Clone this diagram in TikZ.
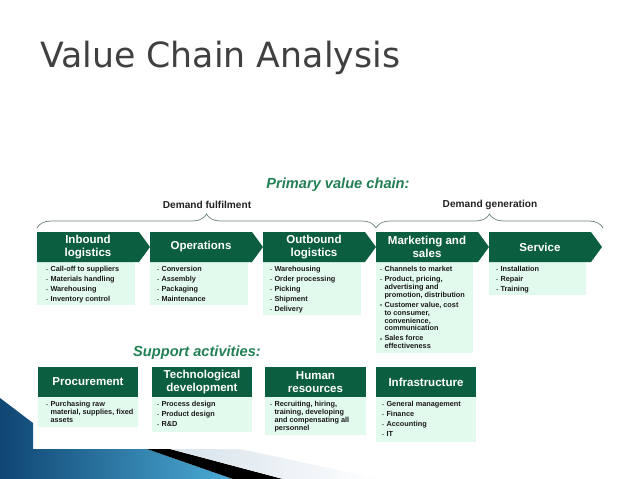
\documentclass[tikz,border=0pt]{standalone}
\usepackage{fontspec}
\setmainfont{Liberation Sans}
\newfontfamily\titlefont{DejaVu Sans}
\usetikzlibrary{calc, decorations.pathreplacing, positioning}

\newcommand{\vcbul}{\makebox[3pt][l]{\textcolor{bulcol}{\rule[0.9pt]{1.2pt}{1.2pt}}}}
\newcommand{\vcind}{\hspace*{3pt}}
\newcommand{\vcnext}{\\[1.5pt]}

\tikzset{
  titletext/.style={text=titlecol, font=\titlefont\fontsize{24.7}{28}\selectfont, inner sep=0pt},
  heading/.style={text=headingcol, font=\fontsize{10.4}{12}\selectfont\bfseries\itshape, inner sep=0pt},
  demand/.style={text=demandcol, font=\fontsize{7.2}{8}\selectfont\bfseries, inner sep=0pt},
  headtext/.style={text=white, font=\fontsize{8.2}{9.3}\selectfont\bfseries, align=center, inner sep=0pt},
  bodytext/.style={anchor=north west, inner sep=0pt, align=left, text=bodytxtcol,
    font=\fontsize{5.2}{5.6}\selectfont\bfseries},
  headfill/.style={fill=headcol},
  bodyfill/.style={fill=bodycol},
  bracket/.style={draw=bracecol, line width=0.5pt, decorate,
    decoration={brace, amplitude=0.35cm}}
}

\begin{document}
\begin{tikzpicture}[x=0.025cm, y=-0.025cm]
  % Slide frame (pixel units)
  \path[use as bounding box] (0,0) rectangle (638,479);
  \fill[white] (0,0) rectangle (638,479);

  % Colours of the slide.
  \definecolor{titlecol}{RGB}{64,64,64}
  \definecolor{headingcol}{RGB}{34,128,84}
  \definecolor{demandcol}{RGB}{34,34,34}
  \definecolor{headcol}{RGB}{12,94,64}
  \definecolor{bodycol}{RGB}{226,249,238}
  \definecolor{bodytxtcol}{RGB}{26,26,26}
  \definecolor{bulcol}{RGB}{120,150,130}
  \definecolor{bracecol}{RGB}{110,130,120}
  \definecolor{bluedark}{RGB}{16,70,115}
  \definecolor{bluelight}{RGB}{75,172,214}
  \definecolor{greylight}{RGB}{214,226,234}

  % Bottom-left ornament.
  \shade[left color=bluedark, right color=bluelight]
    (0,398) -- (33,423) -- (33,449) -- (147,449) -- (233,479) -- (0,479) -- cycle;
  \fill[black] (147,449) -- (170,449) -- (283,479) -- (233,479) -- cycle;
  \shade[left color=greylight, right color=white]
    (170,449) -- (240,449) -- (380,479) -- (283,479) -- cycle;

  % Title.
  \node[titletext, anchor=base west] (title) at (40,68) {Value Chain Analysis};

  % Primary value chain.
  \node[heading] (primary) at (338,185) {Primary value chain:};
  \node[demand] (fulfil) at (207,205) {Demand fulfilment};
  \node[demand] (generate) at (490,205) {Demand generation};

  \coordinate (braceL) at (37,228);
  \coordinate (braceM) at (376,228);
  \coordinate (braceR) at (603,228);
  \draw[bracket] (braceL) -- (braceM);
  \draw[bracket] (braceM) -- (braceR);

  % Chevrons: header and body of each activity.
  \fill[bodyfill] (37,262) rectangle (135,305);
  \fill[headfill] (37,232) -- (139,232) -- (150,247) -- (139,262) -- (37,262) -- cycle;
  \fill[bodyfill] (150,262) rectangle (248,305);
  \fill[headfill] (150,232) -- (252,232) -- (263,247) -- (252,262) -- (150,262) -- cycle;
  \fill[bodyfill] (263,262) rectangle (361,315);
  \fill[headfill] (263,232) -- (365,232) -- (376,247) -- (365,262) -- (263,262) -- cycle;
  \fill[bodyfill] (376,262) rectangle (473,353);
  \fill[headfill] (376,232) -- (478,232) -- (489,247) -- (478,262) -- (376,262) -- cycle;
  \fill[bodyfill] (489,262) rectangle (586,295);
  \fill[headfill] (489,232) -- (591,232) -- (602,247) -- (591,262) -- (489,262) -- cycle;

  \node[headtext] (inbound) at (88,247) {Inbound\\logistics};
  \node[headtext] (operations) at (201,247) {Operations};
  \node[headtext] (outbound) at (314,247) {Outbound\\logistics};
  \node[headtext] (marketing) at (427,247) {Marketing and\\sales};
  \node[headtext] (service) at (540,247) {Service};

  \node[bodytext] (inboundlist) at (46,266)
    {\vcbul Call-off to suppliers\vcnext \vcbul Materials handling\vcnext
     \vcbul Warehousing\vcnext \vcbul Inventory control};
  \node[bodytext] (operationslist) at (157,266)
    {\vcbul Conversion\vcnext \vcbul Assembly\vcnext
     \vcbul Packaging\vcnext \vcbul Maintenance};
  \node[bodytext] (outboundlist) at (270,266)
    {\vcbul Warehousing\vcnext \vcbul Order processing\vcnext
     \vcbul Picking\vcnext \vcbul Shipment\vcnext \vcbul Delivery};
  \node[bodytext] (marketinglist) at (380,266)
    {\vcbul Channels to market\vcnext
     \vcbul Product, pricing,\\ \vcind advertising and\\ \vcind promotion, distribution\vcnext
     \vcbul Customer value, cost\\ \vcind to consumer,\\ \vcind convenience,\\ \vcind communication\vcnext
     \vcbul Sales force\\ \vcind effectiveness};
  \node[bodytext] (servicelist) at (496,266)
    {\vcbul Installation\vcnext \vcbul Repair\vcnext \vcbul Training};

  % Support activities.
  \node[heading] (support) at (197,353) {Support activities:};

  \fill[headfill] (38,367) rectangle (138,397);
  \fill[bodyfill] (38,397) rectangle (138,427);
  \fill[headfill] (152,367) rectangle (252,397);
  \fill[bodyfill] (152,397) rectangle (252,432);
  \fill[headfill] (265,367) rectangle (366,397);
  \fill[bodyfill] (265,397) rectangle (366,435);
  \fill[headfill] (376,367) rectangle (476,397);
  \fill[bodyfill] (376,397) rectangle (476,442);

  \node[headtext] (procurement) at (88,382) {Procurement};
  \node[headtext] (techdev) at (202,382) {Technological\\development};
  \node[headtext] (human) at (315.5,382) {Human\\resources};
  \node[headtext] (infra) at (426,382) {Infrastructure};

  \node[bodytext] (procurementlist) at (46,401)
    {\vcbul Purchasing raw\\ \vcind material, supplies, fixed\\ \vcind assets};
  \node[bodytext] (techdevlist) at (157,401)
    {\vcbul Process design\vcnext \vcbul Product design\vcnext \vcbul R\&D};
  \node[bodytext] (humanlist) at (270,401)
    {\vcbul Recruiting, hiring,\\ \vcind training, developing\\ \vcind and compensating all\\ \vcind personnel};
  \node[bodytext] (infralist) at (382,401)
    {\vcbul General management\vcnext \vcbul Finance\vcnext
     \vcbul Accounting\vcnext \vcbul IT};
\end{tikzpicture}
\end{document}
